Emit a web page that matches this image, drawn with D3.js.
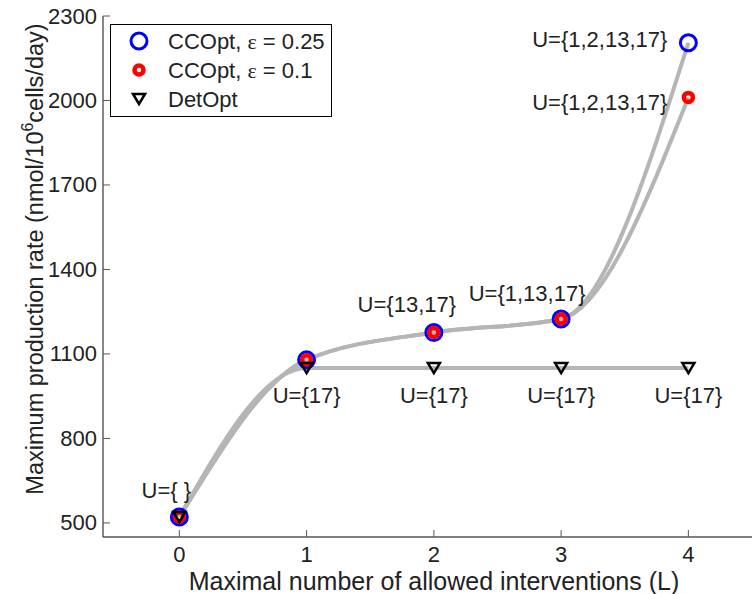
<!DOCTYPE html>
<html><head><meta charset="utf-8">
<script src="https://cdn.jsdelivr.net/npm/d3@7"></script>
<style>body{margin:0;background:#fff}svg{display:block;font-family:"Liberation Sans",Arial,Helvetica,sans-serif}</style>
</head><body><svg id="c" width="752" height="594"></svg>
<script>
const L = [0, 1, 2, 3, 4];
const ccopt025 = [521, 1079, 1176, 1224, 2205];
const ccopt01 = [521, 1079, 1176, 1224, 2011];
const detopt = [521, 1050, 1050, 1050, 1050];
const yTicks = [500, 800, 1100, 1400, 1700, 2000, 2300];
const xTicks = [0, 1, 2, 3, 4];
const detLabels = ["", "U={17}", "U={17}", "U={17}", "U={17}"];
const ccLabels = ["U={ }", "", "U={13,17}", "U={1,13,17}", "U={1,2,13,17}"];
const cc01Labels = ["", "", "", "", "U={1,2,13,17}"];
const legendNames = [["CCOpt, ", "\u03b5", " = 0.25"], ["CCOpt, ", "\u03b5", " = 0.1"], ["DetOpt", "", ""]];

const svg = d3.select("#c");
const x = d3.scaleLinear().domain([-0.6, 4.5]).range([103, 752]);
const y = d3.scaleLinear().domain([450, 2300]).range([537, 16]);
const fs = 22;
const axisCol = "#555";
const txtCol = "#222";

// axes
svg.append("line").attr("x1", x(-0.6)).attr("x2", x(4.5)).attr("y1", y(450)).attr("y2", y(450)).attr("stroke", axisCol).attr("stroke-width", 1.4);
svg.append("line").attr("x1", x(-0.6)).attr("x2", x(-0.6)).attr("y1", y(450)).attr("y2", y(2300)).attr("stroke", axisCol).attr("stroke-width", 1.4);
xTicks.forEach(t => {
  svg.append("line").attr("x1", x(t)).attr("x2", x(t)).attr("y1", y(450)).attr("y2", y(450) - 7).attr("stroke", axisCol);
  svg.append("text").attr("x", x(t)).attr("y", 554).attr("text-anchor", "middle").attr("dominant-baseline", "central").attr("font-size", fs).attr("fill", txtCol).text(t);
});
yTicks.forEach(t => {
  svg.append("line").attr("x1", x(-0.6)).attr("x2", x(-0.6) + 7).attr("y1", y(t)).attr("y2", y(t)).attr("stroke", axisCol);
  svg.append("text").attr("x", 97).attr("y", y(t)).attr("text-anchor", "end").attr("dominant-baseline", "central").attr("font-size", fs).attr("fill", txtCol).text(t);
});
svg.append("text").attr("x", 434).attr("y", 589.5).attr("text-anchor", "middle").attr("font-size", 25).attr("fill", txtCol).text("Maximal number of allowed interventions (L)");
const yl = svg.append("text").attr("transform", "translate(43,259) rotate(-90)").attr("text-anchor", "middle").attr("font-size", 23.5).attr("fill", txtCol);
yl.append("tspan").text("Maximum production rate (nmol/10");
yl.append("tspan").attr("font-size", 16).attr("dy", -10).text("6");
yl.append("tspan").attr("dy", 10).text("cells/day)");

// curves
const line = d3.line().x((d, i) => x(L[i])).y(d => y(d)).curve(d3.curveMonotoneX);
[detopt, ccopt01, ccopt025].forEach(s => {
  svg.append("path").attr("d", line(s)).attr("fill", "none").attr("stroke", "#b5b5b5").attr("stroke-width", 4);
});

// markers
function blue(g, cx, cy) { g.append("circle").attr("cx", cx).attr("cy", cy).attr("r", 8).attr("fill", "none").attr("stroke", "#0000ff").attr("stroke-width", 3); }
function red(g, cx, cy) { g.append("circle").attr("cx", cx).attr("cy", cy).attr("r", 4.5).attr("fill", "none").attr("stroke", "#ff0000").attr("stroke-width", 4.5); }
function tri(g, cx, cy) { g.append("path").attr("d", `M${cx-6},${cy-5}L${cx+6},${cy-5}L${cx},${cy+5}Z`).attr("fill", "none").attr("stroke", "#000").attr("stroke-width", 2.5).attr("stroke-linejoin", "miter"); }
const mg = svg.append("g");
ccopt025.forEach((v, i) => blue(mg, x(L[i]), y(v)));
ccopt01.forEach((v, i) => red(mg, x(L[i]), y(v)));
detopt.forEach((v, i) => tri(mg, x(L[i]), y(v)));

// labels
function lab(txt, px, py, anchor) {
  if (!txt) return;
  svg.append("text").attr("x", px).attr("y", py).attr("text-anchor", anchor).attr("dominant-baseline", "central").attr("font-size", fs).attr("fill", txtCol).text(txt);
}
detLabels.forEach((t, i) => lab(t, x(L[i]), y(detopt[i]) + 27, "middle"));
lab(ccLabels[0], x(L[0]) - 13, y(ccopt025[0]) - 27, "middle");
lab(ccLabels[2], x(L[2]) - 27, y(ccopt025[2]) - 28, "middle");
lab(ccLabels[3], x(L[3]) - 34, y(ccopt025[3]) - 26, "middle");
lab(ccLabels[4], x(L[4]) - 21, y(ccopt025[4]) - 3, "end");
lab(cc01Labels[4], x(L[4]) - 21, y(ccopt01[4]) + 5, "end");

// legend
const lg = svg.append("g");
lg.append("rect").attr("x", 110.5).attr("y", 24.5).attr("width", 221).attr("height", 92).attr("fill", "#fff").attr("stroke", "#000").attr("stroke-width", 1);
const ly = [41, 70, 99];
blue(lg, 139, ly[0]); red(lg, 139, ly[1]); tri(lg, 139, ly[2]);
legendNames.forEach((n, i) => {
  const t = lg.append("text").attr("x", 168).attr("y", ly[i]).attr("dominant-baseline", "central").attr("font-size", fs).attr("fill", txtCol);
  t.append("tspan").text(n[0]);
  if (n[1]) t.append("tspan").attr("font-family", "'Liberation Serif','Times New Roman',serif").text(n[1]);
  if (n[2]) t.append("tspan").text(n[2]);
});
</script></body></html>
